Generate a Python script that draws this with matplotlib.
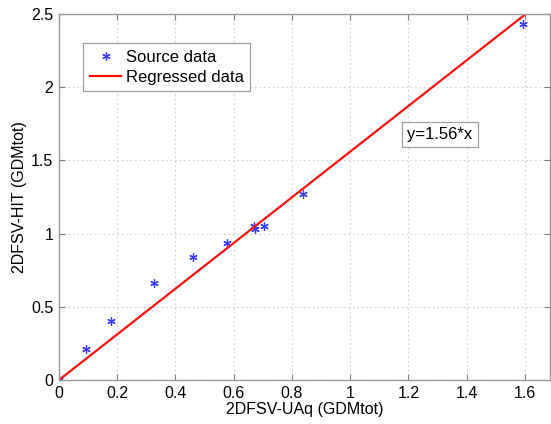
import matplotlib
matplotlib.use("Agg")
import matplotlib.pyplot as plt
import numpy as np

plt.rcParams["font.family"] = ["Liberation Sans", "DejaVu Sans"]

# values
uaq = [0.0, 0.092, 0.177, 0.327, 0.461, 0.576, 0.67, 0.672, 0.705, 0.839, 1.594]
hit = [0.0, 0.21, 0.40, 0.66, 0.84, 0.935, 1.05, 1.03, 1.05, 1.27, 2.43]
slope = 1.56
fit_x = [0.0, 1.6]
xticks = [0, 0.2, 0.4, 0.6, 0.8, 1, 1.2, 1.4, 1.6]
yticks = [0, 0.5, 1, 1.5, 2, 2.5]

fig = plt.figure(figsize=(5.51, 4.24), dpi=100)
ax = fig.add_axes([59 / 551, 1 - 380 / 424, 491 / 551, 366 / 424])

ax.plot(uaq, hit, linestyle="none", marker=(6, 2, 0), markersize=6,
        markeredgewidth=0.9, color="#3a3aff", label="Source data")
ax.plot(fit_x, [slope * v for v in fit_x], color="#ff1010", lw=1.6,
        label="Regressed data")

ax.set_xlim(0, 1.686)
ax.set_ylim(0, 2.5)
ax.set_xticks(xticks)
ax.set_xticklabels(["0", "0.2", "0.4", "0.6", "0.8", "1", "1.2", "1.4", "1.6"])
ax.set_yticks(yticks)
ax.set_yticklabels(["0", "0.5", "1", "1.5", "2", "2.5"])
ax.tick_params(direction="in", top=True, right=True, labelsize=11.5,
               color="#808080", length=4, pad=4)
for s in ax.spines.values():
    s.set_color("#999999")
    s.set_linewidth(1.0)
ax.grid(True, linestyle=(0, (1.5, 2.5)), color="#d0d0d0", lw=0.8)

ax.set_xlabel("2DFSV-UAq (GDMtot)", fontsize=11.5, labelpad=1)
ax.set_ylabel("2DFSV-HIT (GDMtot)", fontsize=11.5, labelpad=3)

leg = ax.legend(loc="upper left", bbox_to_anchor=(0.049, 0.921),
                borderaxespad=0, fontsize=12, fancybox=False, framealpha=1,
                edgecolor="#a0a0a0", handlelength=1.9, borderpad=0.4,
                labelspacing=0.3, handletextpad=0.25)
leg.get_frame().set_linewidth(0.9)

ax.text(1.308, 1.674, "y=1.56*x", fontsize=12, ha="center", va="center",
        bbox=dict(boxstyle="square,pad=0.3", fc="white", ec="#a0a0a0", lw=0.9))

fig.savefig("out.png", dpi=100)
